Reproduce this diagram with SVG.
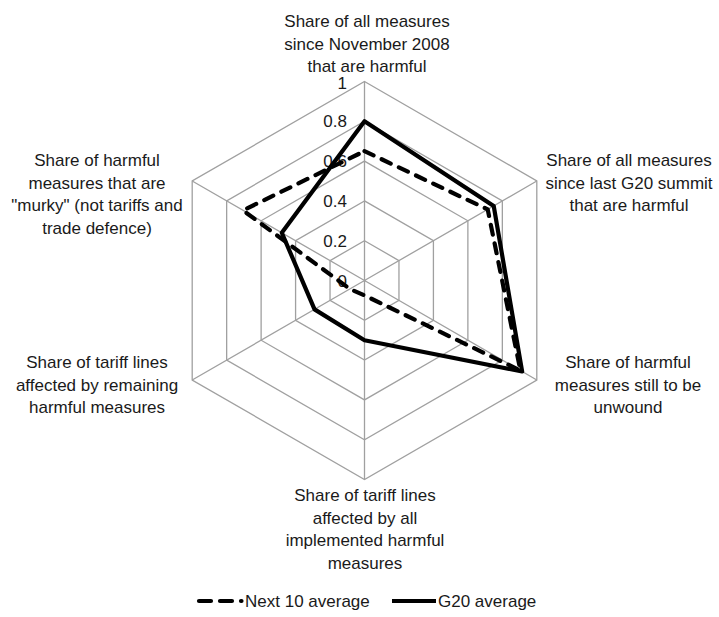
<svg xmlns="http://www.w3.org/2000/svg" width="719" height="617" viewBox="0 0 719 617">
<style>
text{font-family:"Liberation Sans",Arial,sans-serif;font-size:17px;fill:#1a1a1a}
.lbl{text-anchor:middle}
.tick{text-anchor:end}
.grid{fill:none;stroke:#a0a0a0;stroke-width:1.3}
.n10{fill:none;stroke:#000;stroke-width:4.2;stroke-dasharray:10 9;stroke-linecap:round;stroke-linejoin:round}
.g20{fill:none;stroke:#000;stroke-width:4.2;stroke-linejoin:round}
</style>
<rect width="719" height="617" fill="#fff"/>
<g id="grid" transform="translate(364.5,280.5)">
<polygon class="grid" points="0,-199 172.3,-99.5 172.3,99.5 0,199 -172.3,99.5 -172.3,-99.5"/>
<polygon class="grid" points="0,-159.2 137.84,-79.6 137.84,79.6 0,159.2 -137.84,79.6 -137.84,-79.6"/>
<polygon class="grid" points="0,-119.4 103.38,-59.7 103.38,59.7 0,119.4 -103.38,59.7 -103.38,-59.7"/>
<polygon class="grid" points="0,-79.6 68.92,-39.8 68.92,39.8 0,79.6 -68.92,39.8 -68.92,-39.8"/>
<polygon class="grid" points="0,-39.8 34.46,-19.9 34.46,19.9 0,39.8 -34.46,19.9 -34.46,-19.9"/>
<path class="grid" d="M0,0V-199M0,0L172.3,-99.5M0,0L172.3,99.5M0,0V199M0,0L-172.3,99.5M0,0L-172.3,-99.5"/>
</g>
<g id="ticks">
<text class="tick" x="347" y="89">1</text>
<text class="tick" x="347" y="127.3">0.8</text>
<text class="tick" x="347" y="167.1">0.6</text>
<text class="tick" x="347" y="206.9">0.4</text>
<text class="tick" x="347" y="246.7">0.2</text>
<text class="tick" x="347" y="286.5">0</text>
</g>
<g id="connectors" transform="translate(364.5,280.5)">
<polygon id="series-next10" class="n10" points="0,-129.35 123.2,-71.1 155.9,90 0,14.9 -14.65,8.46 -121.5,-70.1"/>
<polygon id="series-g20" class="g20" points="0,-159.2 129.2,-74.6 157.65,91 0,59.7 -49.97,28.86 -82.7,-47.76"/>
</g>
<g id="axis-top">
<text class="lbl" x="367" y="27">Share of all measures</text>
<text class="lbl" x="367" y="49.5">since November 2008</text>
<text class="lbl" x="367" y="72">that are harmful</text>
</g>
<g id="axis-upper-right">
<text class="lbl" x="629" y="166">Share of all measures</text>
<text class="lbl" x="629" y="188.5">since last G20 summit</text>
<text class="lbl" x="629" y="211">that are harmful</text>
</g>
<g id="axis-lower-right">
<text class="lbl" x="628" y="368">Share of harmful</text>
<text class="lbl" x="628" y="390.5">measures still to be</text>
<text class="lbl" x="628" y="413">unwound</text>
</g>
<g id="axis-bottom">
<text class="lbl" x="365" y="501">Share of tariff lines</text>
<text class="lbl" x="365" y="523.5">affected by all</text>
<text class="lbl" x="365" y="546">implemented harmful</text>
<text class="lbl" x="365" y="568.5">measures</text>
</g>
<g id="axis-lower-left">
<text class="lbl" x="97" y="368">Share of tariff lines</text>
<text class="lbl" x="97" y="390.5">affected by remaining</text>
<text class="lbl" x="97" y="413">harmful measures</text>
</g>
<g id="axis-upper-left">
<text class="lbl" x="97" y="166">Share of harmful</text>
<text class="lbl" x="97" y="188.5">measures that are</text>
<text class="lbl" x="97" y="211">"murky" (not tariffs and</text>
<text class="lbl" x="97" y="233.5">trade defence)</text>
</g>
<g id="legend">
<line x1="199" y1="601" x2="241.5" y2="601" fill="none" stroke="#000" stroke-width="4.2" stroke-linecap="round" stroke-dasharray="12 9 12 9"/>
<text x="245" y="607">Next 10 average</text>
<line class="g20" x1="392" y1="601" x2="436" y2="601"/>
<text x="438" y="607">G20 average</text>
</g>
</svg>
